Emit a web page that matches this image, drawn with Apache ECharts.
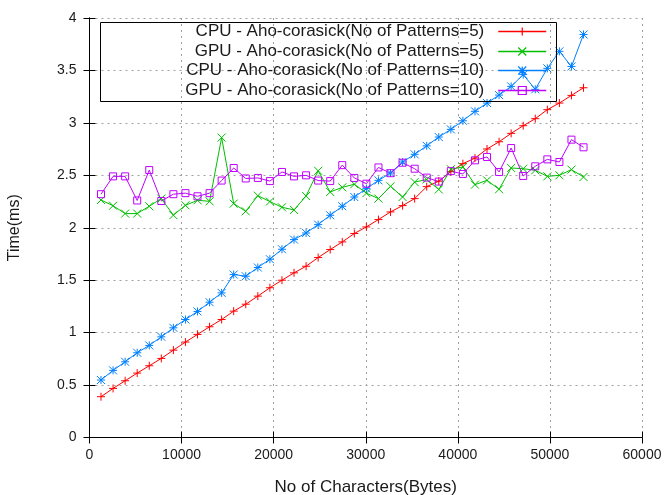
<!DOCTYPE html>
<html>
<head>
<meta charset="utf-8">
<script src="https://cdn.jsdelivr.net/npm/echarts@6/dist/echarts.min.js"></script>
<style>html,body{margin:0;padding:0;background:#fff;}#c{width:667px;height:495px;}</style>
</head>
<body>
<div id="c"></div>
<script>
const xValues = [1250, 2560, 3870, 5180, 6490, 7800, 9110, 10420, 11730, 13040, 14350, 15660, 16970, 18280, 19590, 20900, 22210, 23520, 24830, 26140, 27450, 28760, 30070, 31380, 32690, 34000, 35310, 36620, 37930, 39240, 40550, 41860, 43170, 44480, 45790, 47100, 48410, 49720, 51030, 52340, 53650];
const cpu5 = [0.389, 0.468, 0.541, 0.614, 0.684, 0.754, 0.833, 0.910, 0.983, 1.056, 1.125, 1.205, 1.271, 1.348, 1.428, 1.500, 1.570, 1.633, 1.716, 1.792, 1.865, 1.945, 2.008, 2.078, 2.151, 2.211, 2.278, 2.392, 2.444, 2.535, 2.611, 2.664, 2.751, 2.820, 2.900, 2.973, 3.040, 3.126, 3.189, 3.262, 3.335];
const gpu5 = [2.265, 2.21, 2.135, 2.135, 2.205, 2.278, 2.12, 2.214, 2.262, 2.252, 2.86, 2.23, 2.157, 2.306, 2.25, 2.195, 2.17, 2.303, 2.543, 2.341, 2.385, 2.415, 2.33, 2.278, 2.395, 2.293, 2.435, 2.46, 2.365, 2.558, 2.58, 2.411, 2.452, 2.367, 2.57, 2.563, 2.548, 2.49, 2.5, 2.554, 2.484];
const cpu10 = [0.548, 0.640, 0.722, 0.808, 0.878, 0.960, 1.046, 1.125, 1.202, 1.290, 1.379, 1.554, 1.538, 1.621, 1.700, 1.795, 1.887, 1.950, 2.030, 2.119, 2.205, 2.293, 2.373, 2.452, 2.522, 2.627, 2.700, 2.781, 2.865, 2.938, 3.020, 3.110, 3.189, 3.265, 3.348, 3.460, 3.320, 3.520, 3.682, 3.538, 3.843];
const gpu10 = [2.32, 2.49, 2.49, 2.26, 2.55, 2.255, 2.32, 2.33, 2.30, 2.33, 2.45, 2.57, 2.47, 2.475, 2.445, 2.532, 2.49, 2.50, 2.45, 2.445, 2.597, 2.475, 2.42, 2.575, 2.52, 2.62, 2.563, 2.478, 2.44, 2.54, 2.513, 2.643, 2.675, 2.532, 2.76, 2.494, 2.586, 2.652, 2.627, 2.84, 2.767];
const seriesNames = ['CPU - Aho-corasick(No of Patterns=5)', 'GPU - Aho-corasick(No of Patterns=5)', 'CPU - Aho-corasick(No of Patterns=10)', 'GPU - Aho-corasick(No of Patterns=10)'];
const colors = ['#ff0000', '#00c000', '#0080ff', '#c000ff'];
const symbols = [
  'path://M5,0L5,10M0,5L10,5',
  'path://M0,0L10,10M10,0L0,10',
  'path://M5,0L5,10M0,5L10,5M0,0L10,10M10,0L0,10',
  'path://M0,0L10,0L10,10L0,10Z'
];
const symbolSizes = [8, 8, 8, 7];
const xTicks = {min: 0, max: 60000, interval: 10000};
const yTicks = {min: 0, max: 4, interval: 0.5};

const font = 'Liberation Sans, Arial, sans-serif';
const textColor = '#1a1a1a';
const dataSets = [cpu5, gpu5, cpu10, gpu10];

const chart = echarts.init(document.getElementById('c'), null, {renderer: 'canvas'});
const axisCommon = {
  axisLine: {show: true, lineStyle: {color: '#000', width: 1}},
  axisTick: {show: true, inside: true, length: 6, lineStyle: {color: '#000'}},
};
const legendRows = [32, 52, 71, 91];
chart.setOption({
  animation: false,
  backgroundColor: '#fff',
  grid: {left: 89.5, right: 25, top: 18, bottom: 57.5, containLabel: false, outerBoundsMode: 'none'},
  xAxis: [{
    type: 'value', min: xTicks.min, max: xTicks.max, interval: xTicks.interval,
    name: 'No of Characters(Bytes)', nameLocation: 'middle', nameGap: 41,
    nameTextStyle: {fontFamily: font, fontSize: 17, color: textColor},
    axisLabel: {fontFamily: font, fontSize: 14, color: textColor, margin: 11, formatter: v => String(v)},
    splitLine: {show: true, lineStyle: {color: '#a0a0a0', type: [2, 4], width: 1}},
    ...axisCommon
  }, {
    type: 'value', position: 'top', min: xTicks.min, max: xTicks.max, interval: xTicks.interval,
    axisLabel: {show: false}, splitLine: {show: false},
    ...axisCommon
  }],
  yAxis: [{
    type: 'value', min: yTicks.min, max: yTicks.max, interval: yTicks.interval,
    name: 'Time(ms)', nameLocation: 'middle', nameGap: 67,
    nameTextStyle: {fontFamily: font, fontSize: 16, color: textColor},
    axisLabel: {fontFamily: font, fontSize: 14, color: textColor, margin: 13},
    splitLine: {show: true, lineStyle: {color: '#a0a0a0', type: [2, 4], width: 1}},
    ...axisCommon
  }, {
    type: 'value', position: 'right', min: yTicks.min, max: yTicks.max, interval: yTicks.interval,
    axisLabel: {show: false}, splitLine: {show: false},
    ...axisCommon
  }],
  legend: seriesNames.map((n, i) => ({
    data: [n],
    right: 120, top: legendRows[i] - 10, orient: 'vertical', align: 'right',
    padding: 0, itemWidth: 48, itemHeight: 10, selectedMode: false,
    lineStyle: {width: 1.5},
    itemStyle: {borderWidth: 1.2},
    textStyle: {fontFamily: font, fontSize: 17, color: textColor, lineHeight: 19, padding: [0, 9, 0, 0]}
  })),
  graphic: [{
    type: 'rect', shape: {x: 100.5, y: 22.5, width: 456, height: 79},
    style: {fill: 'none', stroke: '#000', lineWidth: 1}, silent: true, z: 100
  }],
  series: seriesNames.map((n, i) => ({
    name: n, type: 'line',
    data: xValues.map((x, j) => [x, dataSets[i][j]]),
    symbol: symbols[i], symbolSize: symbolSizes[i], showAllSymbol: true,
    lineStyle: {color: colors[i], width: 1},
    itemStyle: {color: 'rgba(0,0,0,0)', borderColor: colors[i], borderWidth: 1},
    emphasis: {disabled: true}
  }))
});
</script>
</body>
</html>
